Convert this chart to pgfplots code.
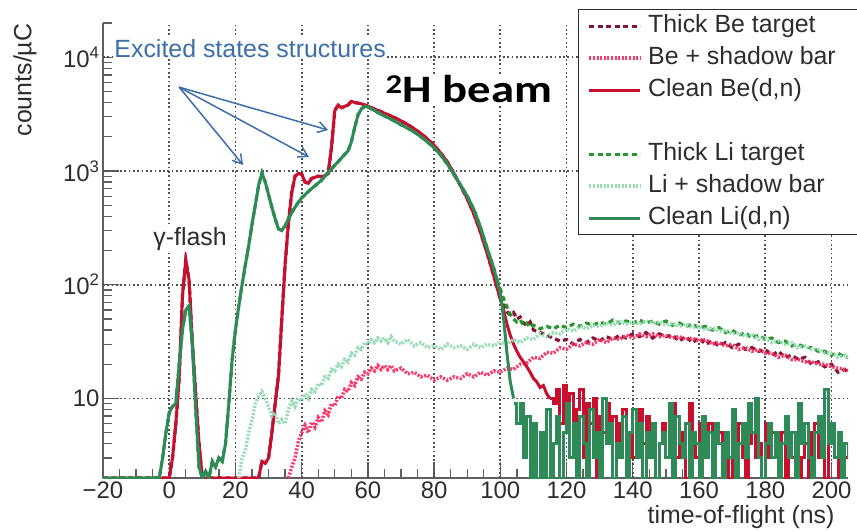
\documentclass[border=0pt]{standalone}
\usepackage{fontspec}
\setmainfont{Liberation Sans}
\newfontfamily\calibri{Carlito}
\usepackage{pgfplots}
\pgfplotsset{compat=1.18}
\usepackage{pgfplotstable}
\usetikzlibrary{arrows.meta}
\definecolor{cbred}{RGB}{200,16,46}
\definecolor{tbred}{RGB}{135,20,55}
\definecolor{bspink}{RGB}{255,55,105}
\definecolor{clgreen}{RGB}{46,139,87}
\definecolor{tlgreen}{RGB}{40,150,45}
\definecolor{lsgreen}{RGB}{150,220,180}
\definecolor{annblue}{RGB}{60,110,170}
\definecolor{axgray}{RGB}{95,95,95}
\definecolor{gridgray}{RGB}{80,80,80}
\definecolor{txtgray}{RGB}{45,45,45}

% Clean Be(d,n) main part
\pgfplotstableread{
x y
-20 2
-1 2
0 2
1 3
2 6
3 15
4 80
5 165
6 110
7 30
8 11
9 4
10 2
27 2
28 2.8
29 2.7
30 3
31 5
32 9
33 16
34 50
35 150
36 350
37 650
38 900
39 950
40 940
41 800
42 780
43 860
44 880
45 900
46 890
47 910
48 950
49 1600
50 3400
51 3800
52 3600
53 3700
54 3800
55 4100
56 4000
57 3950
58 3900
59 3800
60 3720
62 3500
64 3320
66 3130
68 2950
70 2760
72 2560
74 2350
76 2140
78 1910
80 1680
82 1440
84 1200
86 950
88 740
90 570
92 420
94 290
96 190
98 120
99 95
100 75
101 60
102 45
103 36
104 30
105 26
106 23
107 21
108 19
109 17
110 15
111 14
112 12.5
113 13
114 11
115 10
}\cbmain

\pgfplotstableread{
x y
115 10
116 9
117 12
118 6
119 13
120 5
121 11
122 4
123 8
124 12
125 3
126 9
127 6
128 10
129 2
130 7
131 5
132 9
133 4
134 7
135 3
136 6
137 8
138 2
139 5
140 3
141 6
142 8
143 4
144 7
145 3
146 5
147 2
148 4
149 6
150 3
151 7
152 9
153 3
154 5
155 4
156 2
157 9
158 4
159 3
160 6
161 5
162 3
163 6
164 2
165 4
166 5
167 3
168 4
169 2
170 5
171 4
172 6
173 3
174 2
175 4
176 5
177 3
178 4
179 2
180 6
181 3
182 5
183 4
184 3
185 5
186 2
187 4
188 3
189 5
190 2
191 3
192 4
193 2
194 5
195 6
196 3
197 4
198 2
199 5
200 4
201 3
202 2
203 4
204 3
205 3
}\cbnoise

% Thick Be target tail
\pgfplotstableread{
x y
100 80
101 66
102 58
103 54
104 57
105 50
106 52
107 46
108 44
109 47
110 40
112 38
114 36
116 34
118 32
120 33
122 30
124 33
126 31
128 34
130 32
132 35
134 33
136 36
138 34
140 37
142 35
144 38
146 34
148 37
150 35
152 36
154 32
156 35
158 31
160 34
162 30
164 32
166 29
168 31
170 28
172 30
174 27
176 28
178 26
180 27
182 24
184 26
186 23
188 24
190 22
192 23
194 20
196 21
198 19
200 20
202 17
204 18
205 17
}\tbtail

% Be + shadow bar
\pgfplotstableread{
x y
36 2
37 2.5
38 3
39 4.2
40 5
41 5.8
42 5
43 6.2
44 5.6
45 6.8
46 6.2
47 7.8
48 7.2
49 9
50 8.6
51 10.5
52 10
53 12
54 11.5
55 13.8
56 13
57 15.5
58 14.8
59 17
60 16.5
61 18.5
62 17.5
63 19.5
64 18
65 19.5
66 18
67 19.5
68 17.5
70 18.5
72 16.5
74 17
76 15.5
78 16
80 14.5
82 15.5
84 14.5
86 15.5
88 15
90 16.5
92 15.5
94 17
96 16
98 17.5
100 17
102 18.5
104 18
106 20
108 20.5
110 23
112 22.5
114 25.5
116 25
118 28
120 27
122 30
124 29
126 31
128 30
130 33
132 31
134 34
136 33
138 36
140 34
142 37
144 35
146 37
148 35
150 36
152 34
154 35
156 33
158 34
160 32
162 33
164 30
166 31
168 29
170 30
172 27
174 28
176 26
178 27
180 25
182 25
184 23
186 24
188 22
190 22
192 21
194 21
196 20
198 20
200 19
202 18.5
204 18
205 17.5
}\bsdata

% Clean Li(d,n) main part
\pgfplotstableread{
x y
-20 2
-3 2
-2 3
-1 5
0 7.5
1 8.5
2 9
3 20
4 40
5 60
6 65
7 30
8 8
9 2.5
10 2
11 2.3
12 2
13 2.8
14 2.5
15 3
16 2.8
17 4
18 9
19 22
20 40
21 65
22 100
23 150
24 220
25 340
26 500
27 750
28 960
29 800
30 620
31 480
32 380
33 310
34 300
35 330
36 380
37 430
38 480
39 530
40 580
42 660
44 740
46 830
48 970
50 1120
52 1300
54 1500
55 1800
56 2400
57 3100
58 3500
59 3700
60 3650
62 3400
64 3150
66 2950
68 2750
70 2550
72 2380
74 2200
76 2000
78 1800
80 1600
82 1380
84 1150
86 930
88 750
90 600
92 460
94 320
96 210
98 140
99 110
100 85
101 50
102 25
103 14
104 10
}\clmain

\pgfplotstableread{
x y
104 9
105 6
106 9
107 3
108 7
109 2
110 6
111 2
112 5
113 2
114 8
115 2
116 4
117 7
118 2
119 5
120 9
121 3
122 6
123 2
124 7
125 4
126 2
127 8
128 3
129 5
130 2
131 10
132 4
133 6
134 2
135 4
136 3
137 7
138 2
139 5
140 8
141 3
142 6
143 2
144 5
145 3
146 6
147 2
148 4
149 5
150 3
151 9
152 2
153 7
154 4
155 3
156 6
157 2
158 5
159 4
160 2
161 7
162 3
163 5
164 2
165 6
166 4
167 2
168 5
169 3
170 8
171 2
172 4
173 6
174 3
175 9
176 5
177 10
178 3
179 2
180 4
181 6
182 3
183 5
184 2
185 4
186 7
187 3
188 5
189 2
190 9
191 4
192 6
193 3
194 2
195 5
196 7
197 3
198 12
199 4
200 6
201 3
202 5
203 2
204 4
205 3
}\clnoise

% Thick Li target tail
\pgfplotstableread{
x y
99 110
100 92
101 75
102 64
103 55
104 50
105 47
106 49
107 44
108 46
109 42
110 44
112 41
114 43
116 41
118 44
120 42
122 45
124 43
126 46
128 44
130 47
132 45
134 49
136 46
138 48
140 46
142 49
144 46
146 48
148 45
150 48
152 44
154 46
156 43
158 45
160 42
162 43
164 40
166 42
168 38
170 40
172 36
174 38
176 34
178 36
180 33
182 34
184 31
186 32
188 29
190 30
192 28
194 28
196 26
198 26
200 24
202 25
204 23
205 23
}\tltail

% Li + shadow bar
\pgfplotstableread{
x y
21 2
22 3
23 3.5
24 5
25 6.5
26 9
27 10.5
28 11.5
29 10
30 8.5
31 7
32 7.5
33 6
34 6.5
35 6
36 8
37 9.5
38 8.5
39 10
40 9.5
41 11
42 10
43 12
44 11.5
45 13.5
46 13
47 15.5
48 15
49 18
50 17.5
51 20
52 19
53 22
54 21
55 25
56 24
57 28
58 27
59 31
60 30
61 33
62 31
63 34
64 32
65 34
66 31
67 35
68 32
70 30
72 33
74 29
76 31
78 28
80 29
82 27
84 30
86 28
88 29
90 27
92 30
94 28
96 30
98 29
100 31
102 30
104 33
106 31
108 34
110 33
112 37
114 35
116 38
118 37
120 41
122 39
124 43
126 41
128 44
130 43
132 46
134 44
136 48
138 45
140 47
142 45
144 48
146 46
148 47
150 44
152 46
154 43
156 45
158 42
160 43
162 40
164 42
166 39
168 40
170 37
172 38
174 35
176 37
178 33
180 34
182 31
184 32
186 30
188 31
190 28
192 29
194 27
196 27
198 25
200 25
202 23
204 24
205 22
}\lsdata

\pgfplotsset{
  cbsty/.style={draw=cbred, line width=3bp, solid},
  tbsty/.style={draw=tbred, line width=3.2bp, dash pattern=on 5bp off 3.5bp},
  bssty/.style={draw=bspink, line width=3.5bp, dash pattern=on 2bp off 1.6bp},
  clsty/.style={draw=clgreen, line width=3bp, solid},
  tlsty/.style={draw=tlgreen, line width=3.2bp, dash pattern=on 5bp off 3.5bp},
  lssty/.style={draw=lsgreen, line width=3.5bp, dash pattern=on 2bp off 1.6bp},
}
\tikzset{gridsty/.style={draw=gridgray, line width=1.7bp, dash pattern=on 1.7bp off 2.6bp}}

\begin{document}
\begin{tikzpicture}
\begin{axis}[
  scale only axis, width=745bp, height=455bp,
  xmin=-20, xmax=205, ymode=log, ymin=2, ymax=20000,
  axis x line*=bottom, axis y line*=left,
  axis line style={draw=axgray, line width=1.3bp},
  xtick={-20,0,20,40,60,80,100,120,140,160,180,200},
  xticklabels={−20,0,20,40,60,80,100,120,140,160,180,200},
  minor x tick num=3,
  ytick={10,100,1000,10000},
  yticklabels={10,10\textsuperscript{2},10\textsuperscript{3},10\textsuperscript{4}},
  minor ytick={2,3,4,5,6,7,8,9,20,30,40,50,60,70,80,90,200,300,400,500,600,700,800,900,2000,3000,4000,5000,6000,7000,8000,9000,20000},
  tick align=inside, major tick length=16bp, minor tick length=9bp,
  tick style={draw=axgray, line width=1.3bp},
  tick label style={font=\fontsize{24}{28}\selectfont, text=txtgray},
  xlabel={time-of-flight (ns)},
  xlabel style={at={(axis description cs:0.9866,-0.0857)}, anchor=east, font=\fontsize{25}{30}\selectfont, text=txtgray},
  ylabel={counts/µC},
  ylabel style={at={(axis description cs:-0.1047,0.8747)}, anchor=center, font=\fontsize{25}{30}\selectfont, text=txtgray},
  legend style={at={(0.6376,1.0308)}, anchor=north west, draw=txtgray, line width=1.3bp, fill=white,
    font=\fontsize{25}{30}\selectfont, text=txtgray, inner xsep=9bp, inner ysep=2bp, row sep=3bp,
    column sep=4bp,
    nodes={inner sep=2bp, text height=19bp, text depth=6bp}},
  legend cell align=left,
  legend image code/.code={\draw[#1] (0bp,0bp) -- (51bp,0bp);},
]
% grid (drawn first, behind the data)
\pgfplotsinvokeforeach{0,20,40,60,80,100,120,140,160,180,200}{
  \draw[gridsty] (axis cs:#1,2) -- (axis cs:#1,20000);
}
\pgfplotsinvokeforeach{10,100,1000,10000}{
  \draw[gridsty] (axis cs:-20,#1) -- (axis cs:205,#1);
}
% Be series
\addplot[tbsty, forget plot, restrict x to domain=-20:100] table[x=x,y=y] {\cbmain};
\addplot[tbsty, forget plot] table[x=x,y=y] {\tbtail};
\addplot[bssty, forget plot] table[x=x,y=y] {\bsdata};
\addplot[cbsty, forget plot] table[x=x,y=y] {\cbmain};
\addplot[cbsty, const plot, forget plot] table[x=x,y=y] {\cbnoise};
% Li series
\addplot[tlsty, forget plot, restrict x to domain=-20:99] table[x=x,y=y] {\clmain};
\addplot[tlsty, forget plot] table[x=x,y=y] {\tltail};
\addplot[lssty, forget plot] table[x=x,y=y] {\lsdata};
\addplot[clsty, forget plot] table[x=x,y=y] {\clmain};
\addplot[clsty, const plot, forget plot] table[x=x,y=y] {\clnoise};

% legend
\addlegendimage{tbsty}\addlegendentry{Thick Be target\hspace*{40bp}}
\addlegendimage{bssty}\addlegendentry{Be + shadow bar}
\addlegendimage{cbsty}\addlegendentry{Clean Be(d,n)}
\addlegendimage{empty legend}\addlegendentry{}
\addlegendimage{tlsty}\addlegendentry{Thick Li target}
\addlegendimage{lssty}\addlegendentry{Li + shadow bar}
\addlegendimage{clsty}\addlegendentry{Clean Li(d,n)}

% annotations
\node[fill=white, text=annblue, anchor=west, inner sep=1bp, font=\fontsize{25}{30}\selectfont] at (axis cs:-16.9,12000) {Excited states structures};
\draw[annblue, line width=1.5bp, -{Straight Barb[length=9bp,width=11bp]}] (axis cs:3,5460) -- (axis cs:22.3,1130);
\draw[annblue, line width=1.5bp, -{Straight Barb[length=9bp,width=11bp]}] (axis cs:3,5460) -- (axis cs:42.2,1327);
\draw[annblue, line width=1.5bp, -{Straight Barb[length=9bp,width=11bp]}] (axis cs:3,5460) -- (axis cs:48,2290);
\node[fill=white, text=txtgray, inner sep=1bp, font=\fontsize{25}{30}\selectfont] at (axis cs:6.3,250) {γ-flash};
\node[fill=white, text=black, inner sep=1bp, font=\calibri\bfseries\fontsize{39}{40}\selectfont] at (axis cs:90.5,5250) {\scalebox{1.2}[1]{\textsuperscript{2}H beam}};
\end{axis}
\pgfresetboundingbox
\path[use as bounding box] (-103bp,-54bp) rectangle (754bp,478bp);
\end{tikzpicture}
\end{document}
